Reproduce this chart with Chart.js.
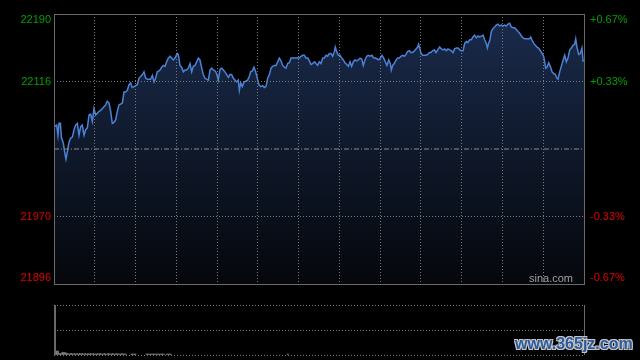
<!DOCTYPE html>
<html>
<head>
<meta charset="utf-8">
<script src="https://cdn.jsdelivr.net/npm/chart.js@4.4.1/dist/chart.umd.min.js"></script>
<style>
html, body { margin: 0; padding: 0; background: #000; width: 640px; height: 360px; overflow: hidden; }
#main { position: absolute; left: 0; top: 0; }
#vol { position: absolute; left: 0; top: 300px; }
#wm {
    position: absolute; left: 515px; top: 336px;
    font: bold 16px "Liberation Sans", Arial, sans-serif; line-height: 16px;
    color: #2c5a9e; letter-spacing: 0px;
    text-shadow: -1px -1px 0 #c8c8c8, 1px -1px 0 #c8c8c8, -1px 1px 0 #c8c8c8, 1px 1px 0 #c8c8c8;
}
</style>
</head>
<body>
<canvas id="main" width="640" height="290"></canvas>
<canvas id="vol" width="640" height="60"></canvas>
<div id="wm">www.365jz.com</div>
<script>
// intraday minutes since open (0..390) and index level
const minutes = [
    0,2.0,2.9,3.7,4.7,5.4,6.9,7.8,8.8,9.8,11.0,12.3,13.5,14.7,15.9,17.2,18.4,19.6,20.8,22.1,23.3,24.5,25.8,27.0,28.2,29.4,30.7,31.9,33.1,34.3,35.6,36.8,38.0,39.2,40.5,41.7,42.9,44.2,45.4,46.6,47.8,49.1,50.3,51.5,52.7,54.0,55.2,56.4,57.6,58.9,60.1,61.3,62.5,63.8,65.0,66.2,67.5,68.7,69.9,71.1,72.4,73.6,74.8,76.0,77.3,
    78.0,79.2,80.5,81.7,82.9,84.1,85.4,86.6,87.8,89.0,90.3,91.0,91.7,92.7,93.9,95.2,96.4,97.6,98.8,100.1,101.3,102.5,103.8,105.0,106.2,107.4,108.7,109.9,111.1,112.3,113.6,114.8,116.0,117.2,118.5,119.7,120.9,122.2,123.4,124.6,125.8,127.1,128.3,129.5,130.7,132.0,133.2,134.4,135.6,136.4,137.4,138.6,139.8,141.3,142.5,143.7,144.7,145.9,147.2,148.4,149.6,150.8,152.1,153.5,154.8,
    156.0,157.2,158.5,159.7,160.9,162.1,163.4,164.6,165.8,167.0,168.3,169.5,170.7,171.9,173.2,174.4,175.6,176.8,178.1,179.3,180.5,181.8,183.0,184.2,185.4,186.7,187.9,189.1,190.3,191.6,192.8,194.0,195.2,196.5,197.7,198.9,200.2,201.4,202.6,203.8,205.1,206.3,207.0,208.0,209.2,210.5,211.7,212.9,214.1,215.4,216.6,217.8,219.0,220.3,221.5,222.7,223.9,225.2,226.4,227.6,228.8,230.1,231.3,232.5,
    234.0,235.2,236.5,237.7,238.9,240.1,241.4,242.6,243.8,245.0,246.3,247.5,248.2,249.2,250.4,251.7,252.9,254.1,255.3,256.6,257.8,259.0,260.2,261.5,262.7,263.9,265.2,266.4,267.6,268.3,269.1,270.1,271.3,272.5,273.7,275.0,276.2,277.4,278.6,279.9,281.1,282.3,283.8,285.0,286.2,287.5,288.7,289.9,291.2,292.4,293.6,294.8,296.1,297.3,298.5,299.7,301.0,302.2,303.4,304.6,305.9,307.1,308.3,309.5,310.8,
    312.0,313.2,314.5,315.7,316.9,318.1,318.9,319.8,320.8,321.8,323.0,324.3,325.5,326.7,327.9,329.2,330.4,331.6,332.8,334.1,335.3,336.5,337.8,339.0,340.2,341.4,342.7,343.9,345.1,346.3,347.6,348.8,350.0,350.8,351.7,353.0,354.2,355.4,356.6,357.9,359.1,360.3,361.1,361.8,362.8,364.0,365.2,366.5,367.7,368.9,370.1,370.9,372.1,373.3,374.5,375.8,377.0,378.2,379.5,380.7,381.9,383.1,383.9,384.8,386.1,387.3,388.5,389.3,390
];
const prices = [
    22067,22069,22058,22071,22071,22056,22049,22040,22032,22040,22050,22055,22056,22064,22069,22071,22058,22067,22069,22058,22064,22066,22080,22081,22073,22087,22080,22082,22084,22085,22087,22089,22091,22095,22093,22084,22071,22072,22075,22084,22091,22092,22093,22105,22105,22107,22113,22115,22110,22111,22112,22113,22120,22122,22124,22127,22120,22119,22119,22119,22123,22116,22120,22127,22128,
    22129,22132,22134,22133,22138,22142,22144,22142,22140,22142,22146,22147,22144,22134,22132,22127,22129,22129,22131,22136,22127,22133,22134,22138,22142,22140,22131,22124,22120,22119,22118,22129,22131,22129,22128,22125,22118,22130,22131,22129,22127,22124,22121,22124,22124,22120,22118,22116,22118,22107,22115,22111,22116,22117,22118,22122,22127,22128,22132,22127,22120,22113,22111,22112,22110,
    22111,22120,22124,22131,22133,22134,22134,22138,22142,22139,22134,22132,22131,22136,22137,22142,22142,22142,22142,22142,22142,22144,22145,22145,22142,22142,22139,22135,22136,22138,22136,22134,22138,22136,22142,22142,22145,22144,22147,22147,22144,22149,22154,22149,22145,22145,22142,22140,22137,22135,22133,22138,22133,22138,22140,22139,22140,22142,22141,22134,22140,22144,22145,22144,
    22145,22142,22142,22141,22140,22142,22145,22142,22138,22134,22140,22136,22129,22134,22136,22140,22142,22142,22144,22145,22144,22146,22149,22150,22148,22148,22150,22152,22154,22157,22153,22147,22145,22145,22145,22146,22148,22148,22150,22151,22148,22151,22154,22152,22151,22152,22150,22152,22151,22150,22148,22152,22153,22153,22151,22150,22150,22158,22160,22159,22162,22162,22165,22167,22164,
    22166,22165,22166,22167,22162,22158,22153,22158,22162,22171,22174,22176,22178,22179,22177,22178,22177,22178,22177,22179,22180,22176,22175,22175,22173,22171,22169,22166,22164,22163,22163,22163,22163,22165,22162,22158,22156,22154,22153,22150,22147,22144,22138,22131,22132,22137,22133,22127,22125,22124,22120,22119,22127,22133,22139,22145,22138,22142,22151,22153,22156,22157,22163,22154,22146,22147,22153,22139,22140
];
const prevClose = 22043;
const yTicks = [21896, 21969.5, 22043, 22116.5, 22190];
const leftLabels = ['21896', '21970', '', '22116', '22190'];
const rightLabels = ['-0.67%', '-0.33%', '', '+0.33%', '+0.67%'];

// volume (tiny, only a few minutes show anything)
const volMinutes = [
    1,2,3,4,5,6,7,8,9,10,11,12,13,14,15,16,17,18,19,20,21,22,23,24,25,26,27,28,29,30,
    31,32,33,34,35,36,37,38,39,40,41,42,43,44,45,46,47,48,49,50,51,52,53,
    57,58,59,60,68,69,70,71,72,73,74,75,76,77,78,79,80,81,83,84,85,86,172
];
const volumes = [
    3,8,8,3,3,5,5,5,4,3,2,3,3,2,3,2,3,2,3,2,3,2,3,2,3,2,3,2,3,2,
    2,3,2,3,2,2,3,2,2,3,2,2,3,2,2,3,2,2,2,3,2,2,2,
    2,2,2,2,2,2,2,2,2,2,2,2,2,2,2,2,2,2,2,2,2,2,2
];

const FONT = '"Liberation Sans", Arial, sans-serif';

const mainFrame = {
    id: 'mainFrame',
    afterDraw(chart) {
        const ctx = chart.ctx, ys = chart.scales.y, a = chart.chartArea;
        ctx.save();
        ctx.font = '11px ' + FONT;
        ctx.textBaseline = 'middle';
        yTicks.forEach((v, i) => {
            if (!leftLabels[i]) return;
            let py = ys.getPixelForValue(v);
            py = Math.min(Math.max(py, a.top + 6), a.bottom - 6);
            ctx.fillStyle = v > prevClose ? '#00a000' : '#e00000';
            ctx.textAlign = 'right';
            ctx.fillText(leftLabels[i], a.left - 3, py);
            ctx.textAlign = 'left';
            ctx.fillText(rightLabels[i], a.right + 6, py);
        });
        ctx.strokeStyle = '#6a6a6a';
        ctx.lineWidth = 1;
        ctx.strokeRect(Math.round(a.left) + 0.5, Math.round(a.top) + 0.5, Math.round(a.width), Math.round(a.height));
        ctx.fillStyle = '#a0a0a0';
        ctx.textAlign = 'right';
        ctx.textBaseline = 'bottom';
        ctx.fillText('sina.com', a.right - 11, a.bottom);
        ctx.restore();
    }
};

function areaGradient(context) {
    const chart = context.chart;
    const a = chart.chartArea;
    if (!a) return 'rgba(0,0,0,0)';
    const g = chart.ctx.createLinearGradient(0, a.top, 0, a.bottom);
    g.addColorStop(0, '#1a2b4c');
    g.addColorStop(1, '#05070b');
    return g;
}

new Chart(document.getElementById('main'), {
    type: 'line',
    data: {
        datasets: [{
            data: minutes.map((m, i) => ({x: m, y: prices[i]})),
            borderColor: '#4b82d8',
            borderWidth: 1.5,
            pointRadius: 0,
            tension: 0,
            fill: 'start',
            backgroundColor: areaGradient,
            order: 2
        }, {
            data: [{x: 0, y: prevClose}, {x: 390, y: prevClose}],
            borderColor: '#8c8c8c',
            borderWidth: 1,
            borderDash: [5, 2, 1, 2],
            pointRadius: 0,
            fill: false,
            order: 1
        }]
    },
    options: {
        responsive: false,
        animation: false,
        events: [],
        layout: {padding: {left: 54, right: 56, top: 14, bottom: 6}},
        plugins: {legend: {display: false}, tooltip: {enabled: false}},
        scales: {
            x: {
                type: 'linear', min: 0, max: 390,
                ticks: {display: false, stepSize: 30},
                grid: {color: '#7a7a7a', drawTicks: false, z: 1},
                border: {display: false, dash: [1, 2]}
            },
            y: {
                min: 21896, max: 22190,
                afterBuildTicks: s => { s.ticks = yTicks.map(v => ({value: v})); },
                ticks: {display: false},
                grid: {color: c => (c.tick && c.tick.value === prevClose) ? 'rgba(0,0,0,0)' : '#7a7a7a', drawTicks: false, z: 1},
                border: {display: false, dash: [1, 2]}
            }
        }
    },
    plugins: [mainFrame]
});

const volFrame = {
    id: 'volFrame',
    afterDraw(chart) {
        const ctx = chart.ctx, a = chart.chartArea;
        ctx.save();
        ctx.strokeStyle = '#6a6a6a';
        ctx.lineWidth = 2;
        ctx.beginPath();
        ctx.moveTo(Math.round(a.left) + 1, a.top);
        ctx.lineTo(Math.round(a.left) + 1, a.bottom);
        ctx.stroke();
        ctx.lineWidth = 1;
        ctx.beginPath();
        ctx.moveTo(Math.round(a.right) + 0.5, a.top);
        ctx.lineTo(Math.round(a.right) + 0.5, a.bottom);
        ctx.stroke();
        ctx.restore();
    }
};

new Chart(document.getElementById('vol'), {
    type: 'bar',
    data: {
        datasets: [{
            data: volMinutes.map((m, i) => ({x: m, y: volumes[i]})),
            backgroundColor: '#808080',
            barThickness: 1
        }]
    },
    options: {
        responsive: false,
        animation: false,
        events: [],
        layout: {padding: {left: 54, right: 56, top: 5, bottom: 5}},
        plugins: {legend: {display: false}, tooltip: {enabled: false}},
        scales: {
            x: {
                type: 'linear', min: 0, max: 390, offset: false,
                display: false
            },
            y: {
                min: 0, max: 100,
                ticks: {display: false, stepSize: 50},
                grid: {color: '#7a7a7a', drawTicks: false},
                border: {display: false, dash: [1, 2]}
            }
        }
    },
    plugins: [volFrame]
});
</script>
</body>
</html>
